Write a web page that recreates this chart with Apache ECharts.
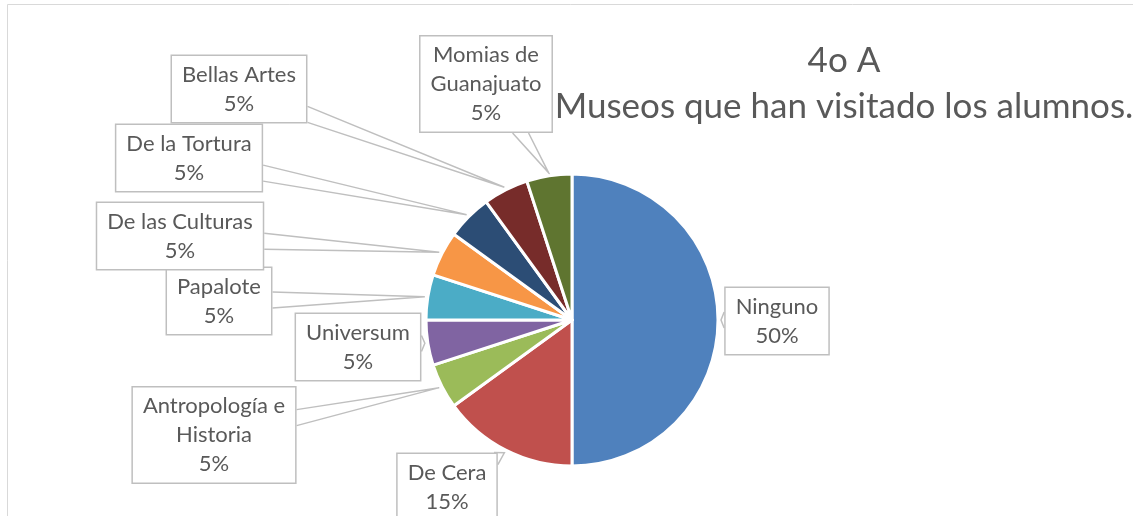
<!DOCTYPE html>
<html>
<head>
<meta charset="utf-8">
<script src="https://cdn.jsdelivr.net/npm/echarts@6/dist/echarts.min.js"></script>
<style>
  html, body { margin: 0; padding: 0; background: #fff; }
  #chart { width: 1133px; height: 516px; }
</style>
</head>
<body>
<div id="chart"></div>
<script>
// museos y porcentajes
const museos = ["Ninguno", "De Cera", "Antropología e Historia", "Universum", "Papalote",
  "De las Culturas", "De la Tortura", "Bellas Artes", "Momias de Guanajuato"];
const porcentajes = [50, 15, 5, 5, 5, 5, 5, 5, 5];
const colores = ["#4F81BD", "#C0504D", "#9BBB59", "#8064A2", "#4BACC6",
  "#F79646", "#2C4D75", "#772C2A", "#5F7530"];

// centro de cada cuadro de etiqueta (px)
const posEtiquetas = [
  [777, 321], [447, 487], [214, 435], [358, 347], [219, 301],
  [180, 236], [189, 158], [239, 89], [486, 84]
];

const chart = echarts.init(document.getElementById("chart"));

// punto del borde del rectángulo según posición en el perímetro
function puntoPerimetro(r, t) {
  const per = 2 * (r.w + r.h);
  t = ((t % per) + per) % per;
  if (t < r.w) return [r.x + t, r.y];
  t -= r.w;
  if (t < r.h) return [r.x + r.w, r.y + t];
  t -= r.h;
  if (t < r.w) return [r.x + r.w - t, r.y + r.h];
  t -= r.w;
  return [r.x, r.y + r.h - t];
}

// perímetro donde sale la recta centro -> punta
function cruce(r, p) {
  const cx = r.x + r.w / 2, cy = r.y + r.h / 2;
  const dx = p[0] - cx, dy = p[1] - cy;
  const sx = Math.abs(dx) > 0 ? (r.w / 2) / Math.abs(dx) : Infinity;
  const sy = Math.abs(dy) > 0 ? (r.h / 2) / Math.abs(dy) : Infinity;
  const s = Math.min(sx, sy);
  const ex = cx + dx * s, ey = cy + dy * s;
  if (s === sy && dy < 0) return ex - r.x;
  if (s === sx && dx > 0) return r.w + (ey - r.y);
  if (s === sy && dy > 0) return r.w + r.h + (r.x + r.w - ex);
  return 2 * r.w + r.h + (r.y + r.h - ey);
}

const option = {
  backgroundColor: "#fff",
  animation: false,
  title: {
    text: "4o A\nMuseos que han visitado los alumnos.",
    left: 839,
    top: 33,
    textAlign: "center",
    textStyle: {
      fontFamily: "Lato",
      fontSize: 35,
      fontWeight: "normal",
      color: "#595959",
      lineHeight: 46
    }
  },
  graphic: [{
    type: "rect",
    z: -1,
    shape: { x: 7.5, y: 4.5, width: 1200, height: 600 },
    style: { fill: "none", stroke: "#d9d9d9", lineWidth: 1 }
  }],
  series: [{
    type: "pie",
    center: [572, 320],
    radius: [0, 146],
    startAngle: 90,
    clockwise: true,
    avoidLabelOverlap: false,
    itemStyle: { borderColor: "#fff", borderWidth: 3 },
    data: museos.map((m, i) => ({
      name: m,
      value: porcentajes[i],
      itemStyle: { color: colores[i] }
    })),
    label: {
      show: true,
      position: "outside",
      formatter: (p) => p.name.replace("de Guanajuato", "de\nGuanajuato")
        .replace("e Historia", "e\nHistoria") + "\n" + p.value + "%",
      fontFamily: "Lato",
      fontSize: 22,
      lineHeight: 29,
      color: "#595959",
      align: "center",
      backgroundColor: "#fff",
      borderColor: "#bfbfbf",
      borderWidth: 1.5,
      padding: [4, 10]
    },
    labelLine: {
      show: true,
      length: 10,
      length2: 10,
      lineStyle: { color: "#bfbfbf", width: 1.5 }
    },
    labelLayout: function (params) {
      const pos = posEtiquetas[params.dataIndex];
      const w = params.labelRect.width, h = params.labelRect.height;
      const r = { x: pos[0] - w / 2, y: pos[1] - h / 2, w: w, h: h };
      const res = { x: pos[0], y: pos[1], align: "center", verticalAlign: "middle" };
      const pts = params.labelLinePoints;
      if (pts) {
        // punta de la llamada, un poco fuera del sector
        const c = [572, 320];
        const dx = pts[0][0] - c[0], dy = pts[0][1] - c[1];
        const len = Math.sqrt(dx * dx + dy * dy);
        const tip = [c[0] + dx / len * (len + 3), c[1] + dy / len * (len + 3)];
        const t = cruce(r, tip);
        res.labelLinePoints = [puntoPerimetro(r, t - 8), tip, puntoPerimetro(r, t + 8)];
      }
      return res;
    }
  }]
};

chart.setOption(option);
</script>
</body>
</html>
